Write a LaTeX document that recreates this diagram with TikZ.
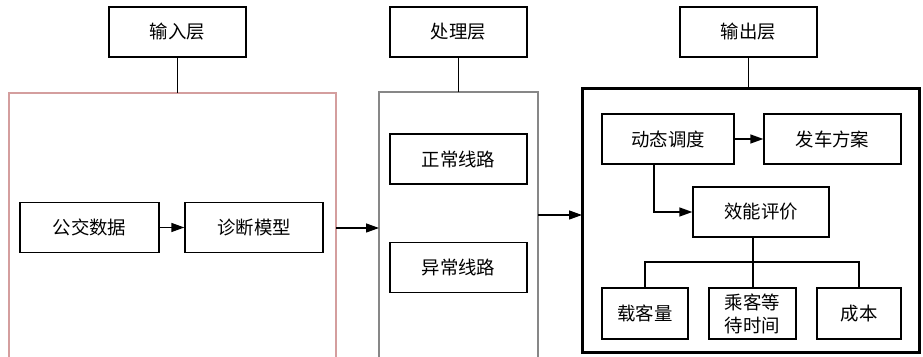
\documentclass[tikz,border=0pt]{standalone}
\usepackage{fontspec}
\newfontfamily\cjk{Noto Sans CJK SC}
\usetikzlibrary{arrows.meta}
\definecolor{inred}{RGB}{212,158,158}
\definecolor{procgray}{RGB}{135,135,135}

\begin{document}
\begin{tikzpicture}[x=0.5pt,y=-0.5pt,
  font=\cjk\fontsize{9.2}{11.5}\selectfont,
  box/.style={draw,line width=0.65pt,inner sep=0pt,minimum width=137\unitpx,minimum height=50\unitpx,align=center},
  arr/.style={line width=0.65pt,-{Triangle[length=6.5pt,width=4.5pt]}},
  link/.style={line width=0.65pt}]
  \def\unitpx{*0.5pt}
  \useasboundingbox (0,0) rectangle (923,357);
  % layer titles
  \node[box] (in) at (177.5,32) {输入层}; \node[box] (proc) at (458.5,32) {处理层}; \node[box] (out) at (748.5,32) {输出层};
  % containers, open below the page
  \draw[inred,line width=1pt] (9,400) -- (9,93) coordinate (inTL) -- (336,93) -- (336,400);
  \draw[procgray,line width=1pt] (379,400) -- (379,92) coordinate (procTL) -- (538,92) -- (538,400);
  \draw[line width=1.5pt] (582,89) coordinate (outTL) rectangle (919,353);
  \coordinate (inR) at (336,228); \coordinate (procL) at (379,228);
  \coordinate (procR) at (538,215); \coordinate (outL) at (582,215);
  \draw[link] (in) -- (in |- inTL); \draw[link] (proc) -- (proc |- procTL); \draw[link] (out) -- (out |- outTL);
  % input layer
  \node[box,minimum width=139\unitpx] (data) at (89.5,227.5) {公交数据};
  \node[box,minimum width=138\unitpx] (model) at (254,227.5) {诊断模型};
  \draw[arr] (data) -- (model);
  \draw[arr] (inR) -- (procL);
  % processing layer
  \node[box] (normal) at (458.5,159) {正常线路};
  \node[box] (abnormal) at (458.5,267.5) {异常线路};
  \draw[arr] (procR) -- (outL);
  % output layer
  \node[box,minimum width=132\unitpx] (dispatch) at (668,139) {动态调度};
  \node[box] (plan) at (832.5,139) {发车方案};
  \node[box,minimum width=136\unitpx] (eval) at (761,212) {效能评价};
  \node[box,minimum width=86\unitpx,minimum height=51\unitpx] (load) at (645,313.5) {载客量};
  \node[box,minimum width=87\unitpx,minimum height=51\unitpx] (wait) at (752.5,313.5) {乘客等\\待时间};
  \node[box,minimum width=84\unitpx,minimum height=51\unitpx] (cost) at (859,313.5) {成本};
  \draw[arr] (dispatch) -- (plan);
  \draw[arr] ([xshift=-7pt]dispatch.south) |- (eval.west);
  \coordinate (fork) at (753,262);
  \draw[link] (eval.south -| fork) -- (fork);
  \draw[link] (load.north) |- (fork) -| (cost.north);
  \draw[link] (fork) -- (wait.north -| fork);
\end{tikzpicture}
\end{document}
